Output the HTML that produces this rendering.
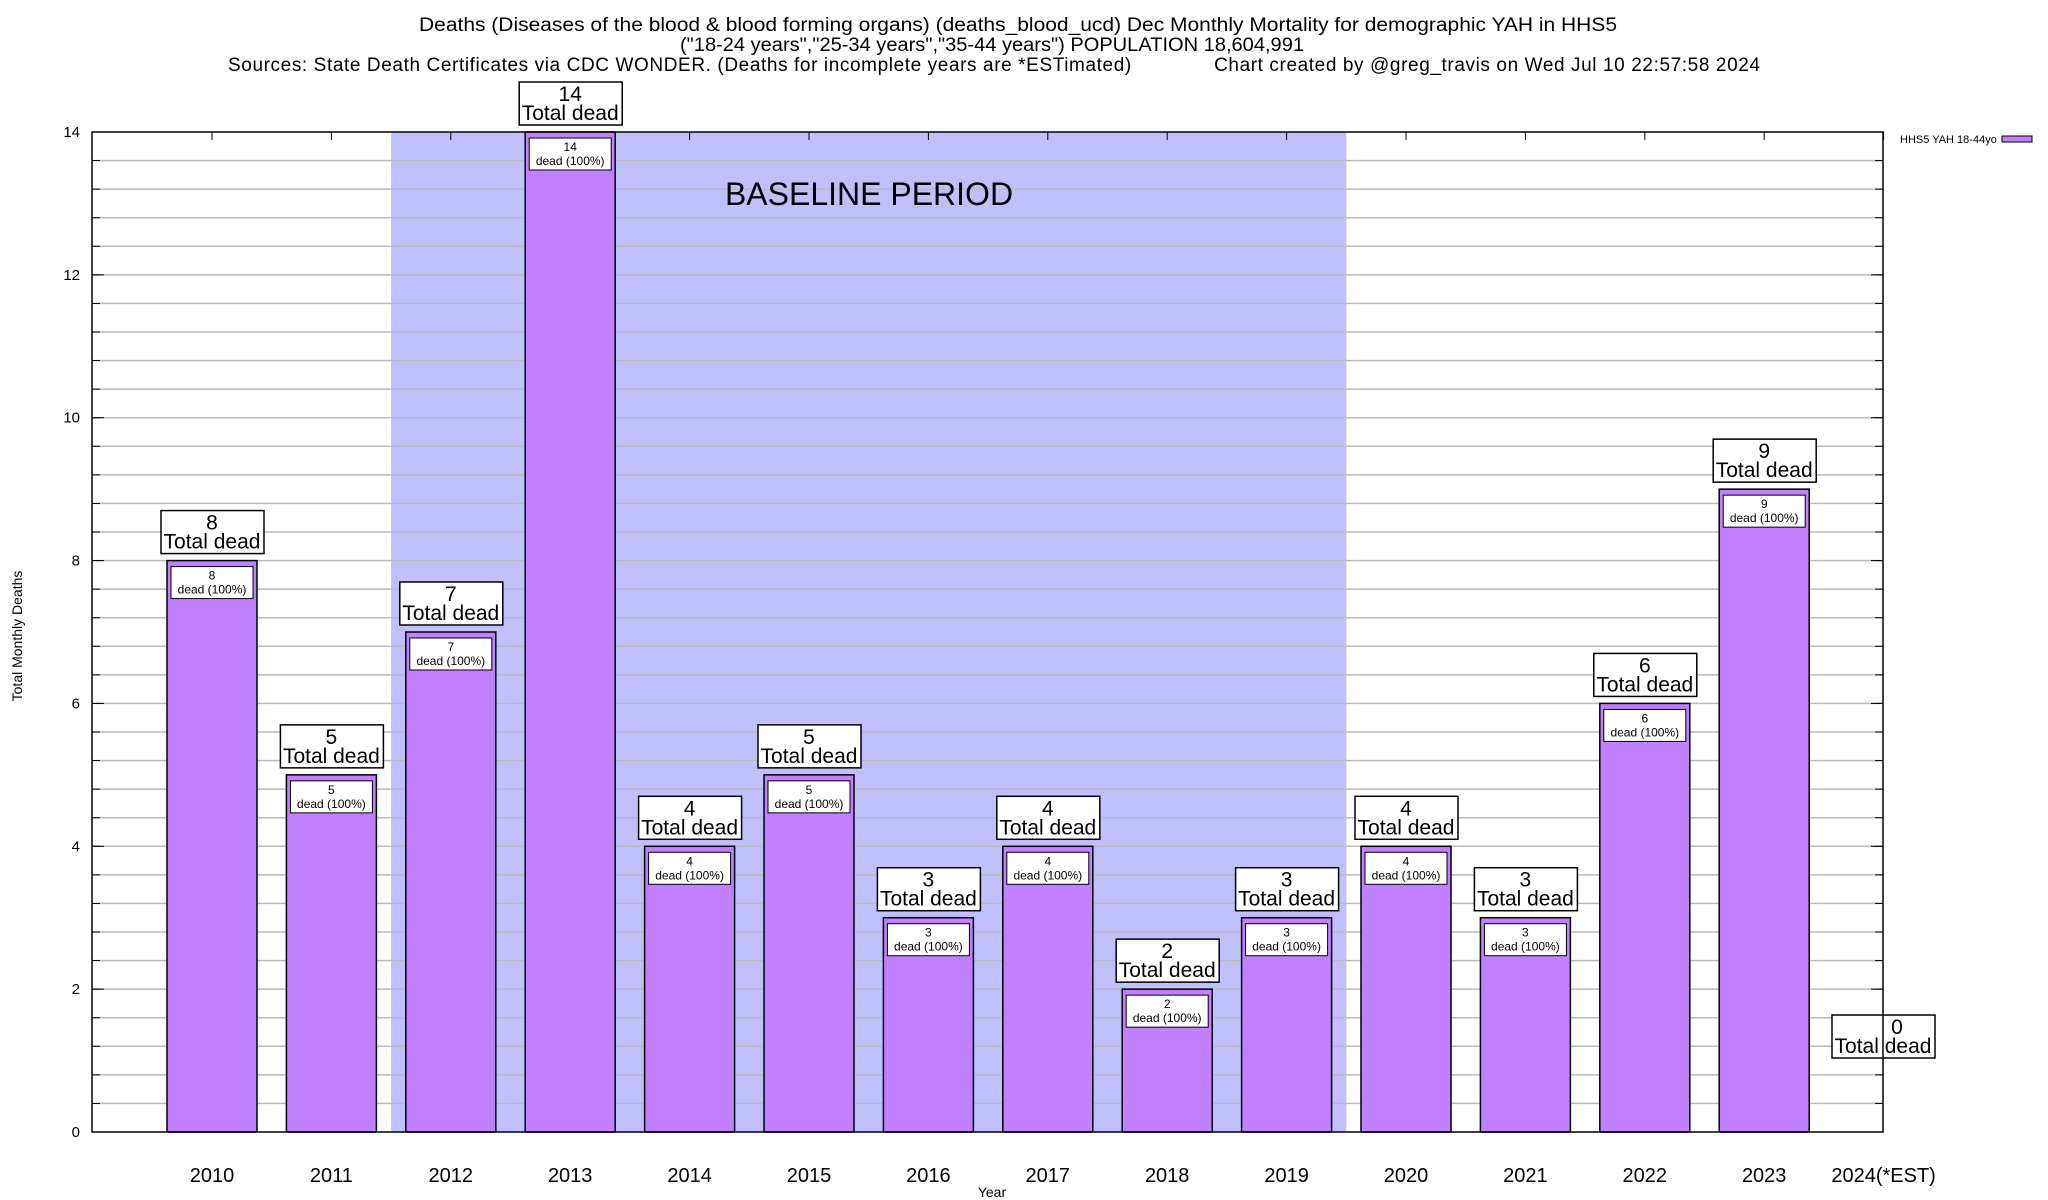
<!DOCTYPE html>
<html><head><meta charset="utf-8"><style>
body{margin:0;background:#fff}
svg{display:block;font-family:"Liberation Sans",sans-serif}
</style></head><body>
<svg id="c" width="2048" height="1200" xmlns="http://www.w3.org/2000/svg">
<g font-size="19">
<text x="419" y="31" textLength="1198" lengthAdjust="spacingAndGlyphs">Deaths (Diseases of the blood &amp; blood forming organs) (deaths_blood_ucd) Dec Monthly Mortality for demographic YAH in HHS5</text>
<text x="680" y="51" textLength="624" lengthAdjust="spacingAndGlyphs">("18-24 years","25-34 years","35-44 years") POPULATION 18,604,991</text>
<text x="228" y="71" textLength="1532" lengthAdjust="spacing" xml:space="preserve">Sources: State Death Certificates via CDC WONDER. (Deaths for incomplete years are *ESTimated)              Chart created by @greg_travis on Wed Jul 10 22:57:58 2024</text>
</g>
<g id="plot"></g>
<text x="0" y="0" font-size="14" text-anchor="middle" transform="translate(22,636) rotate(-90)">Total Monthly Deaths</text>
<text x="992" y="1197" font-size="14" text-anchor="middle">Year</text>
<g>
<text x="1900" y="143" font-size="11">HHS5 YAH 18-44yo</text>
<rect x="2002" y="136" width="30" height="6" fill="#c080ff" stroke="#000" stroke-width="1"/>
</g>
</svg>
<script>
const categories=["2010","2011","2012","2013","2014","2015","2016","2017","2018","2019","2020","2021","2022","2023","2024(*EST)"];
const deaths=[8,5,7,14,4,5,3,4,2,3,4,3,6,9,0];
const yTicks=[0,2,4,6,8,10,12,14];
const baseline=[1.5,9.5];
const L=92,R=1883,T=132,B=1132,ymax=14;
const NS="http://www.w3.org/2000/svg";
const g=document.getElementById('plot');
function xs(i){return 212+119.4*i;}
function ys(v){return B-(v/ymax)*(B-T);}
function el(t,a,p){const e=document.createElementNS(NS,t);for(const k in a)e.setAttribute(k,a[k]);(p||g).appendChild(e);return e;}
let bp=el('rect',{x:xs(baseline[0]),y:T,width:xs(baseline[1])-xs(baseline[0]),height:B-T,fill:'#c0c0ff'});


for(let v=0.4;v<ymax-0.01;v+=0.4){
  const y=ys(v);
  const gl=el('line',{x1:L,x2:R,y1:y,y2:y,stroke:'#bbbbbb','stroke-width':1.5});
  
  
  el('line',{x1:L,x2:L+8,y1:y,y2:y,stroke:'#000'});
  el('line',{x1:R-8,x2:R,y1:y,y2:y,stroke:'#000'});
}
let bl=el('text',{x:869,y:205,'font-size':32,'text-anchor':'middle'});bl.textContent='BASELINE PERIOD';


yTicks.forEach(v=>{
  const t=el('text',{x:80,y:ys(v)+5,'font-size':15,'text-anchor':'end'});t.textContent=v;
  
  
  el('line',{x1:L,x2:L+12,y1:ys(v),y2:ys(v),stroke:'#000'});
  el('line',{x1:R-12,x2:R,y1:ys(v),y2:ys(v),stroke:'#000'});
});
categories.forEach((c,i)=>{
  const cx=xs(i),v=deaths[i];
  el('line',{x1:cx,x2:cx,y1:T,y2:T+8,stroke:'#000'});
  if(v>0){
    const b=el('rect',{x:cx-45,y:ys(v),width:90,height:B-ys(v),fill:'#c080ff',stroke:'#000','stroke-width':1.5});
    
    
    const ib=el('g',{});
    
    
    el('rect',{x:cx-41,y:ys(v)+6,width:82,height:32,fill:'#fff',stroke:'#000'},ib);
    let t1=el('text',{x:cx,y:ys(v)+19,'font-size':12,'text-anchor':'middle'},ib);t1.textContent=v;
    let t2=el('text',{x:cx,y:ys(v)+33,'font-size':12,'text-anchor':'middle'},ib);t2.textContent='dead (100%)';
  }
  const by=v>0?ys(v)-7:ys(0)-74;
  const bx=v>0?cx-51:1832;
  const lb=el('g',{});
  
  
  el('rect',{x:bx,y:by-43,width:103,height:43,fill:'#fff',stroke:'#000','stroke-width':1.5},lb);
  let a=el('text',{x:bx+51+(v>0?0:14),y:by-24,'font-size':21,'text-anchor':'middle'},lb);a.textContent=v;
  let b2=el('text',{x:bx+51,y:by-5,'font-size':21,'text-anchor':'middle'},lb);b2.textContent='Total dead';
  const xl=el('text',{x:cx,y:1182,'font-size':20,'text-anchor':'middle'});xl.textContent=c;
  
  
});
const ax=el('rect',{x:L,y:T,width:R-L,height:B-T,fill:'none',stroke:'#000','stroke-width':1.5});


</script>
</body></html>
